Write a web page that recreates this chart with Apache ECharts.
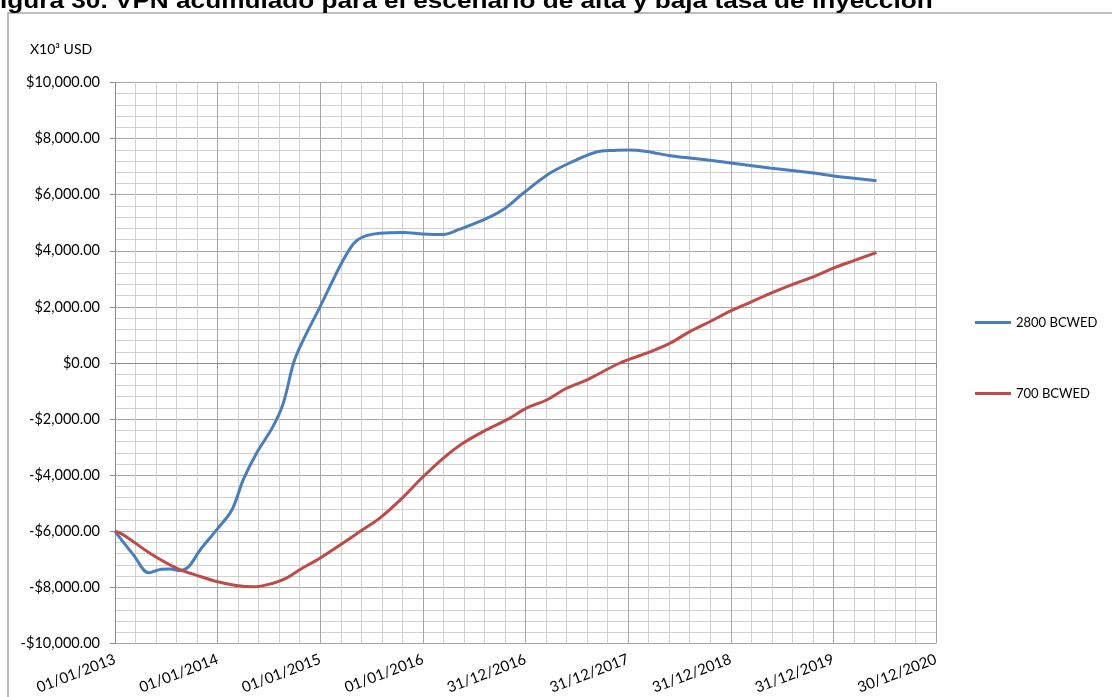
<!DOCTYPE html>
<html>
<head>
<meta charset="utf-8">
<script src="https://cdn.jsdelivr.net/npm/echarts@6/dist/echarts.min.js"></script>
<style>
html,body{margin:0;padding:0;background:#fff;}
#chart{width:1112px;height:697px;}
</style>
</head>
<body>
<div id="chart"></div>
<script>
// Title / labels
const titleText = "igura 30. VPN acumulado para el escenario de alta y baja tasa de inyección";
const unitText = "X10³ USD";
const xTickLabels = ["01/01/2013","01/01/2014","01/01/2015","01/01/2016","31/12/2016","31/12/2017","31/12/2018","31/12/2019","30/12/2020"];
const seriesNames = ["2800 BCWED", "700 BCWED"];

// Series 2800 BCWED: time (years since 01/01/2013) and value (x10^3 USD)
const t2800 = [0,0.18,0.33,0.45,0.54,0.63,0.72,0.83,0.99,1.14,1.25,1.38,1.54,1.64,1.74,1.82,2.0,2.19,2.29,2.36,2.45,2.58,2.81,3.0,3.2,3.36,3.59,3.78,3.98,4.24,4.43,4.69,4.86,5.0,5.18,5.41,5.77,6.0,6.38,6.81,7.0,7.42];
const v2800 = [-6000,-6840,-7480,-7350,-7340,-7400,-7250,-6660,-5950,-5230,-4160,-3210,-2260,-1430,0,710,2020,3440,4080,4380,4540,4630,4650,4600,4580,4770,5100,5460,6060,6770,7130,7520,7580,7590,7540,7390,7240,7130,6950,6770,6670,6500];

// Series 700 BCWED
const t700 = [0,0.08,0.34,0.6,0.83,0.99,1.18,1.35,1.54,1.67,1.8,2.0,2.27,2.39,2.58,2.78,2.99,3.2,3.39,3.62,3.82,4.01,4.21,4.4,4.6,4.92,5.18,5.41,5.6,5.8,5.99,6.19,6.38,6.61,6.81,7.0,7.2,7.42];
const v700 = [-6000,-6120,-6780,-7310,-7610,-7790,-7930,-7980,-7850,-7670,-7370,-6950,-6300,-6000,-5530,-4880,-4100,-3390,-2860,-2380,-2020,-1610,-1310,-900,-600,0,350,710,1120,1480,1840,2160,2470,2810,3080,3380,3650,3940];

const pair = (ts, vs) => ts.map((t, i) => [t, vs[i]]);

function fmtMoney(v) {
  const neg = v < 0;
  const s = Math.abs(v).toLocaleString('en-US', {minimumFractionDigits: 2, maximumFractionDigits: 2});
  return (neg ? '-$' : '$') + s;
}

const FONT = 'Lato';
const chart = echarts.init(document.getElementById('chart'), null, {renderer: 'canvas'});
chart.setOption({
  animation: false,
  backgroundColor: '#ffffff',
  graphic: [
    {type: 'rect', shape: {x: 8, y: 13, width: 1300, height: 900}, style: {fill: 'none', stroke: '#a6a6a6', lineWidth: 1.5}, silent: true},
    {type: 'text', x: 0, y: -9, scaleX: 1.19, style: {text: titleText, font: 'bold 22px "Liberation Sans", Arial, sans-serif', fill: '#000'}},
    {type: 'text', left: 30, top: 42, style: {text: unitText, font: '14px ' + FONT, fill: '#000'}}
  ],
  grid: {left: 115, right: 176, top: 82.5, bottom: 53.5, containLabel: false},
  legend: {
    orient: 'vertical', left: 970, top: 311,
    itemWidth: 36, itemHeight: 3, icon: 'rect', itemGap: 58, itemStyle: {borderWidth: 0},
    textStyle: {fontFamily: FONT, fontSize: 13, color: '#000'},
    data: seriesNames
  },
  xAxis: {
    type: 'value', min: 0, max: 8, interval: 1,
    axisLine: {show: true, lineStyle: {color: '#8c8c8c', width: 1}},
    axisTick: {show: true, length: 5, lineStyle: {color: '#8c8c8c'}},
    minorTick: {show: false, splitNumber: 5},
    splitLine: {show: true, lineStyle: {color: '#a6a6a6', width: 1}},
    minorSplitLine: {show: true, lineStyle: {color: '#d0d0d0', width: 1}},
    axisLabel: {
      rotate: 21, margin: 15, fontFamily: FONT, fontSize: 15, color: '#000',
      formatter: v => xTickLabels[Math.round(v)] || ''
    }
  },
  yAxis: {
    type: 'value', min: -10000, max: 10000, interval: 2000,
    axisLine: {show: true, lineStyle: {color: '#8c8c8c', width: 1}},
    axisTick: {show: true, length: 5, lineStyle: {color: '#8c8c8c'}},
    minorTick: {show: false, splitNumber: 5},
    splitLine: {show: true, lineStyle: {color: '#a6a6a6', width: 1}},
    minorSplitLine: {show: true, lineStyle: {color: '#d0d0d0', width: 1}},
    axisLabel: {margin: 15, fontFamily: FONT, fontSize: 14.5, color: '#000', formatter: fmtMoney}
  },
  series: [
    {
      name: seriesNames[0], type: 'line', data: pair(t2800, v2800),
      smooth: 0.35, showSymbol: false, symbol: 'none',
      lineStyle: {color: '#4a7ebb', width: 3}, itemStyle: {color: '#4a7ebb'}
    },
    {
      name: seriesNames[1], type: 'line', data: pair(t700, v700),
      smooth: 0.35, showSymbol: false, symbol: 'none',
      lineStyle: {color: '#be4b48', width: 3}, itemStyle: {color: '#be4b48'}
    }
  ]
});
</script>
</body>
</html>
